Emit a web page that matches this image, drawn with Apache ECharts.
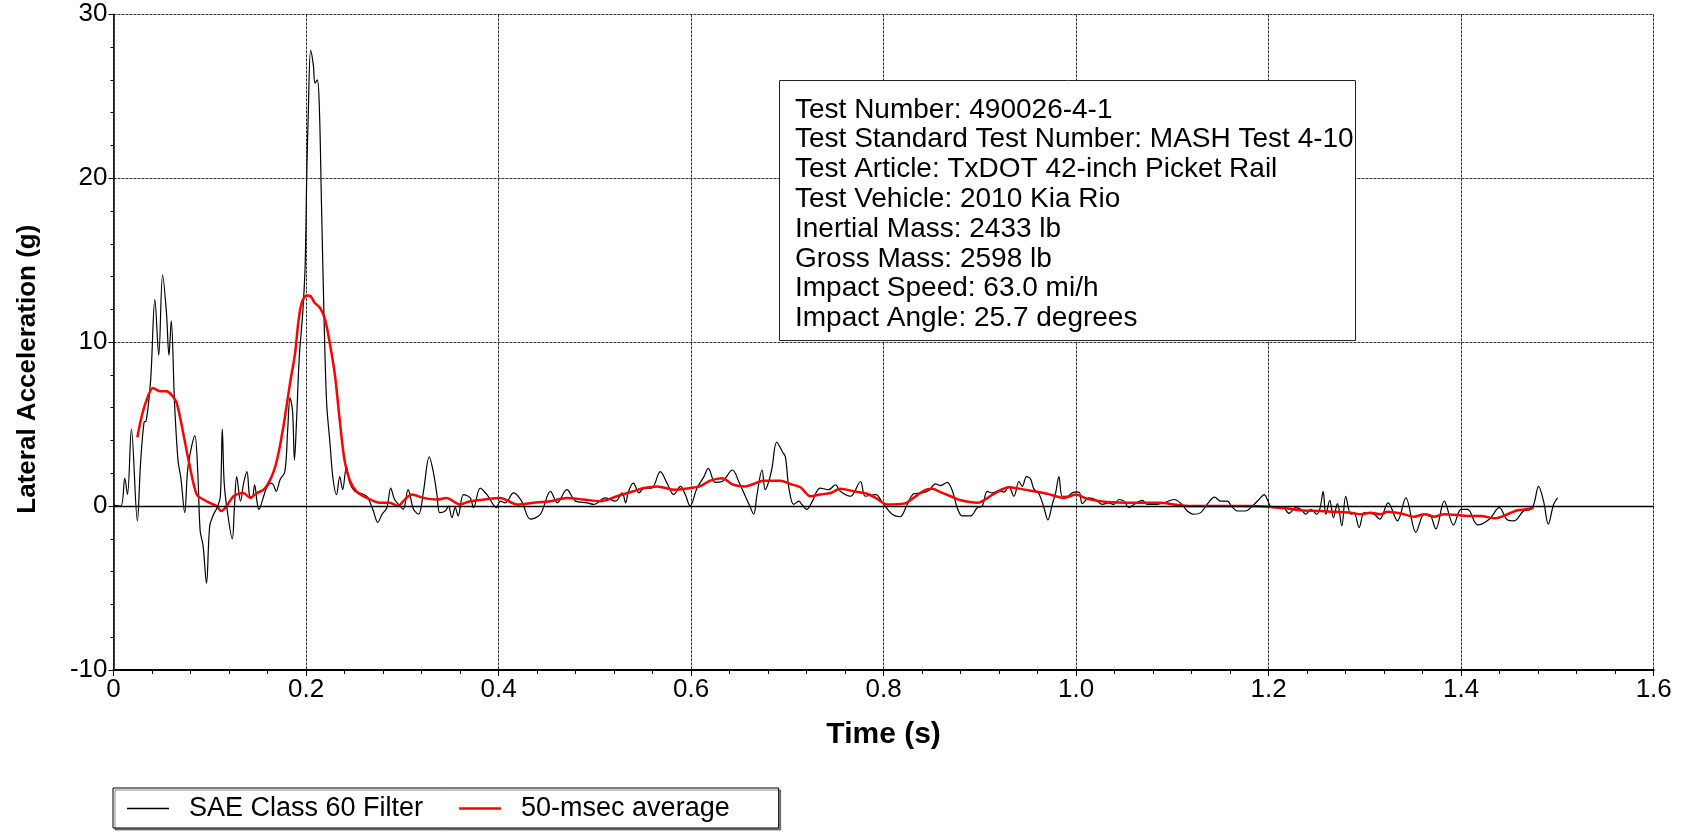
<!DOCTYPE html>
<html>
<head>
<meta charset="utf-8">
<script src="https://cdn.jsdelivr.net/npm/echarts@6/dist/echarts.min.js"></script>
<style>
  html, body { margin: 0; padding: 0; background: #fff; }
  #main { width: 1686px; height: 835px; }
</style>
</head>
<body>
<div id="main"></div>
<script>
// SAE Class 60 filtered lateral acceleration (time s, accel g)
var saeTime = [0, 0.0076, 0.0117, 0.0145, 0.0186, 0.0248, 0.028, 0.0317, 0.034, 0.0386,
  0.043, 0.047, 0.051, 0.055, 0.0576, 0.060, 0.0634, 0.067, 0.070, 0.074,
  0.077, 0.081, 0.0845, 0.0876, 0.090, 0.093, 0.0966, 0.100, 0.104, 0.1076,
  0.111, 0.113, 0.115, 0.118, 0.1234, 0.1255, 0.128, 0.132, 0.1352, 0.1386,
  0.1414, 0.144, 0.1466, 0.149, 0.151, 0.156, 0.159, 0.1634, 0.166, 0.169,
  0.173, 0.178, 0.181, 0.1834, 0.186, 0.188, 0.190, 0.193, 0.1966, 0.199,
  0.2007, 0.2024, 0.2048, 0.2076, 0.2093, 0.2117, 0.2138, 0.216, 0.2186, 0.2214,
  0.2248, 0.228, 0.2317, 0.235, 0.238, 0.242, 0.2455, 0.2507, 0.256, 0.263,
  0.266, 0.270, 0.2745, 0.279, 0.284, 0.288, 0.292, 0.2978, 0.301, 0.306,
  0.3117, 0.317, 0.322, 0.328, 0.3325, 0.336, 0.339, 0.3446, 0.348, 0.3515,
  0.355, 0.358, 0.3636, 0.3706, 0.374, 0.381, 0.388, 0.398, 0.4017, 0.407,
  0.4156, 0.424, 0.433, 0.4434, 0.454, 0.461, 0.471, 0.48, 0.492, 0.499,
  0.511, 0.5215, 0.5285, 0.532, 0.535, 0.540, 0.546, 0.551, 0.559, 0.568,
  0.575, 0.582, 0.589, 0.594, 0.599, 0.6062, 0.613, 0.618, 0.625, 0.6322,
  0.643, 0.6495, 0.6564, 0.661, 0.665, 0.6685, 0.6737, 0.677, 0.6807, 0.684,
  0.689, 0.695, 0.698, 0.7016, 0.7067, 0.712, 0.715, 0.72, 0.726, 0.734,
  0.743, 0.75, 0.755, 0.7655, 0.776, 0.781, 0.7917, 0.800, 0.8089, 0.817,
  0.8245, 0.8314, 0.840, 0.847, 0.854, 0.8592, 0.866, 0.8713, 0.8765, 0.8817,
  0.8904, 0.8973, 0.9025, 0.9077, 0.9129, 0.9198, 0.925, 0.930, 0.9354, 0.9406,
  0.944, 0.9485, 0.9527, 0.956, 0.9614, 0.9666, 0.9707, 0.9752, 0.9787, 0.9821,
  0.9856, 0.9908, 0.9977, 1.003, 1.0064, 1.0133, 1.020, 1.027, 1.034, 1.039,
  1.0445, 1.0497, 1.0549, 1.06, 1.0688, 1.074, 1.0826, 1.0913, 1.1017, 1.110,
  1.1155, 1.1224, 1.1294, 1.136, 1.1439, 1.150, 1.157, 1.162, 1.1675, 1.176,
  1.183, 1.190, 1.1954, 1.199, 1.2023, 1.2092, 1.2144, 1.2214, 1.228, 1.2334,
  1.2386, 1.2437, 1.25, 1.2535, 1.2566, 1.2594, 1.2635, 1.2673, 1.2715, 1.276,
  1.2801, 1.2853, 1.2888, 1.294, 1.2992, 1.3044, 1.3096, 1.3155, 1.3241, 1.3338,
  1.3425, 1.353, 1.3616, 1.3668, 1.3737, 1.3824, 1.392, 1.4, 1.4067, 1.4171,
  1.4292, 1.4396, 1.4482, 1.4551, 1.4648, 1.4725, 1.4759, 1.4804, 1.4856, 1.4905,
  1.496, 1.5002];
var saeAccel = [0.05, 0.0, 1.7, 0.7, 4.7, -0.9, 2.5, 5.1, 5.2, 7.7,
  12.6, 9.2, 14.1, 11.8, 9.2, 11.3, 6.3, 2.8, 1.7, -0.4,
  2.2, 3.6, 4.3, 2.0, -1.5, -2.4, -4.7, -1.2, -0.5, -0.1,
  0.6, 4.7, 1.4, -0.2, -2.0, -0.2, 1.8, 0.3, 1.4, 2.1,
  0.6, 0.5, 1.3, 0.3, -0.2, 0.6, 1.1, 1.4, 1.3, 0.9,
  1.6, 2.1, 4.7, 6.6, 5.8, 2.8, 5.0, 9.1, 11.8, 14.5,
  20.0, 24.1, 27.8, 26.9, 25.8, 26.0, 24.4, 18.6, 11.8, 6.3,
  3.9, 1.7, 0.7, 1.8, 1.0, 2.4, 1.4, 0.9, 0.8, 0.6,
  0.3, -0.3, -1.0, -0.5, -0.1, 1.1, 0.4, 0.0, -0.2, 1.0,
  -0.2, -0.5, 0.9, 3.0, 2.0, 0.7, -0.4, -0.3, 0.0, -0.7,
  -0.1, -0.6, 0.7, 0.5, -0.1, 1.1, 0.7, -0.1, 0.3, 0.2,
  0.8, 0.3, -0.8, -0.5, 0.9, 0.2, 1.0, 0.3, 0.2, 0.1,
  0.5, 0.3, 0.8, 0.2, 0.9, 1.4, 0.8, 1.1, 1.1, 2.1,
  1.4, 0.7, 1.2, 0.7, 0.0, 1.1, 1.75, 2.3, 1.45, 1.5,
  2.2, 1.5, 0.6, 0.0, -0.5, 0.7, 2.2, 1.0, 1.5, 2.3,
  3.9, 3.3, 3.0, 1.1, 0.1, 0.3, 0.1, -0.2, 0.3, 1.1,
  1.0, 1.3, 0.9, 0.6, 1.5, 0.6, 0.7, 0.1, -0.5, -0.65,
  0.1, 0.75, 0.8, 0.95, 1.35, 1.25, 1.45, 0.95, -0.1, -0.6,
  -0.6, -0.1, 0.0, 0.9, 0.8, 0.95, 0.85, 1.2, 0.6, 1.5,
  1.2, 1.8, 1.65, 1.05, 0.75, -0.1, -0.85, 0.1, 0.8, 1.8,
  0.6, 0.6, 0.85, 0.85, 0.15, 0.5, 0.4, 0.1, 0.2, 0.1,
  0.4, 0.3, -0.1, 0.1, 0.35, 0.1, 0.1, 0.2, 0.4, 0.1,
  -0.3, -0.5, -0.4, 0.1, 0.55, 0.3, 0.3, -0.05, -0.3, -0.3,
  0.0, 0.4, 0.7, 0.35, -0.05, -0.1, -0.05, -0.45, -0.1, -0.2,
  -0.5, -0.2, -0.5, -0.1, 0.9, -0.5, 0.35, -0.7, 0.15, -1.2,
  0.6, -0.5, -0.45, -1.3, -0.4, -0.45, -0.5, -0.8, 0.2, -0.9,
  0.5, -1.6, -0.5, -0.5, -1.4, 0.3, -1.15, -0.2, -0.2, -1.15,
  -0.8, -0.1, -0.85, -0.9, -0.3, -0.2, 0.2, 1.2, 0.3, -1.1,
  0.1, 0.5];

// 50-msec moving average
var avgTime = [0.0248, 0.029, 0.034, 0.041, 0.0483, 0.055, 0.060, 0.0656, 0.0726, 0.079,
  0.0865, 0.0934, 0.100, 0.107, 0.112, 0.1176, 0.1246, 0.135, 0.142, 0.1488,
  0.156, 0.1627, 0.168, 0.173, 0.178, 0.1834, 0.1886, 0.192, 0.1955, 0.2007,
  0.2048, 0.209, 0.2145, 0.2197, 0.2248, 0.230, 0.235, 0.240, 0.2455, 0.2524,
  0.263, 0.277, 0.287, 0.296, 0.301, 0.31, 0.322, 0.336, 0.346, 0.36,
  0.3706, 0.385, 0.4017, 0.419, 0.4364, 0.454, 0.471, 0.488, 0.506, 0.523,
  0.540, 0.551, 0.565, 0.582, 0.599, 0.609, 0.620, 0.632, 0.644, 0.656,
  0.665, 0.675, 0.6928, 0.703, 0.7136, 0.724, 0.734, 0.745, 0.755, 0.769,
  0.7828, 0.793, 0.8036, 0.821, 0.831, 0.842, 0.8505, 0.859, 0.8695, 0.88,
  0.8973, 0.9146, 0.930, 0.942, 0.956, 0.970, 0.9873, 0.9994, 1.0116, 1.032,
  1.06, 1.0878, 1.1017, 1.119, 1.147, 1.1813, 1.2023, 1.2196, 1.2334, 1.2542,
  1.268, 1.2853, 1.2957, 1.306, 1.3165, 1.3234, 1.3373, 1.3512, 1.3616, 1.372,
  1.3824, 1.3962, 1.4067, 1.4205, 1.4344, 1.4482, 1.4586, 1.4673, 1.4752];
var avgAccel = [4.2, 5.4, 6.4, 7.2, 7.0, 7.0, 6.8, 6.3, 4.4, 2.5,
  0.7, 0.4, 0.2, 0.0, -0.3, 0.0, 0.6, 0.8, 0.5, 0.8,
  1.0, 1.6, 2.4, 3.7, 5.4, 7.5, 9.3, 11.2, 12.4, 12.85,
  12.8, 12.4, 12.1, 11.4, 9.9, 8.0, 5.25, 2.8, 1.56, 0.9,
  0.5, 0.2, 0.2, 0.0, 0.3, 0.7, 0.5, 0.4, 0.5, 0.1,
  0.3, 0.4, 0.5, 0.1, 0.2, 0.3, 0.5, 0.4, 0.3, 0.6,
  0.9, 1.1, 1.2, 1.0, 1.1, 1.2, 1.55, 1.7, 1.3, 1.2,
  1.35, 1.55, 1.55, 1.35, 1.15, 0.6, 0.7, 0.8, 1.05, 0.9,
  0.75, 0.45, 0.1, 0.15, 0.5, 0.95, 1.05, 0.85, 0.6, 0.35,
  0.2, 0.75, 1.15, 1.05, 0.9, 0.75, 0.5, 0.7, 0.45, 0.25,
  0.2, 0.2, 0.1, 0.0, 0.0, 0.0, -0.05, -0.15, -0.25, -0.3,
  -0.35, -0.4, -0.5, -0.4, -0.5, -0.35, -0.45, -0.65, -0.5, -0.65,
  -0.5, -0.55, -0.6, -0.6, -0.75, -0.5, -0.25, -0.2, -0.1];

var xTickLabels = ['0', '0.2', '0.4', '0.6', '0.8', '1.0', '1.2', '1.4', '1.6'];
var legendNames = ['SAE Class 60 Filter', '50-msec average'];
var infoLines = [
  'Test Number: 490026-4-1',
  'Test Standard Test Number: MASH Test 4-10',
  'Test Article: TxDOT 42-inch Picket Rail',
  'Test Vehicle: 2010 Kia Rio',
  'Inertial Mass: 2433 lb',
  'Gross Mass: 2598 lb',
  'Impact Speed: 63.0 mi/h',
  'Impact Angle: 25.7 degrees'
];

function zip(xs, ys) {
  return xs.map(function (x, i) { return [x, ys[i]]; });
}

var font = '"Liberation Sans", Arial, sans-serif';
var chart = echarts.init(document.getElementById('main'));

var option = {
  backgroundColor: '#fff',
  animation: false,
  textStyle: { fontFamily: font },
  title: {
    text: infoLines.join('\n'),
    left: 779,
    top: 80,
    padding: [15, 2, 7, 16],
    borderColor: '#222',
    borderWidth: 1,
    backgroundColor: '#fff',
    textStyle: {
      fontFamily: font,
      fontSize: 28,
      fontWeight: 'normal',
      color: '#000',
      lineHeight: 29.8
    }
  },
  legend: {
    left: 113,
    top: 788,
    orient: 'horizontal',
    padding: [7, 49, 6, 14],
    borderColor: '#000',
    borderWidth: 1,
    backgroundColor: '#fff',
    shadowColor: 'rgba(0,0,0,0.45)',
    shadowOffsetX: 2,
    shadowOffsetY: 2,
    itemWidth: 42,
    itemHeight: 14,
    itemGap: 36,
    data: [
      { name: legendNames[0], icon: 'path://M0,0H42V1.3H0Z' },
      { name: legendNames[1], icon: 'path://M0,0H42V2.6H0Z' }
    ],
    textStyle: { fontFamily: font, fontSize: 27, color: '#000', padding: [0, 0, 0, 15] }
  },
  grid: { left: 113.5, right: 32.3, top: 14.3, bottom: 165 },
  xAxis: {
    type: 'value',
    min: 0,
    max: 1.6,
    interval: 0.2,
    name: 'Time (s)',
    nameLocation: 'middle',
    nameGap: 50,
    nameTextStyle: { fontFamily: font, fontSize: 30, fontWeight: 'bold', color: '#000' },
    axisLine: { show: true, onZero: false, lineStyle: { color: '#000', width: 2 } },
    axisTick: { show: true, length: 6, lineStyle: { color: '#000' } },
    minorTick: { show: true, splitNumber: 5, length: 4, lineStyle: { color: '#000' } },
    axisLabel: {
      margin: 7,
      fontFamily: font,
      fontSize: 26,
      color: '#000',
      formatter: function (v) { return xTickLabels[Math.round(v / 0.2)]; }
    },
    splitLine: { show: true, lineStyle: { color: '#333', type: [3, 1], width: 1 } }
  },
  yAxis: {
    type: 'value',
    min: -10,
    max: 30,
    interval: 10,
    name: 'Lateral Acceleration (g)',
    nameLocation: 'middle',
    nameGap: 73,
    nameTextStyle: { fontFamily: font, fontSize: 26, fontWeight: 'bold', color: '#000', padding: [0, 54, 0, 0] },
    axisLine: { show: true, lineStyle: { color: '#000', width: 1.5 } },
    axisTick: { show: true, length: 5, lineStyle: { color: '#000' } },
    minorTick: { show: true, splitNumber: 5, length: 3, lineStyle: { color: '#000' } },
    axisLabel: { margin: 6, fontFamily: font, fontSize: 26, color: '#000' },
    splitLine: { show: true, lineStyle: { color: '#333', type: [3, 1], width: 1 } }
  },
  series: [
    {
      name: legendNames[0],
      type: 'line',
      data: zip(saeTime, saeAccel),
      symbol: 'none',
      smooth: 0.35,
      lineStyle: { color: '#000', width: 1.2 },
      itemStyle: { color: '#000' },
      markLine: {
        silent: true,
        symbol: ['none', 'none'],
        label: { show: false },
        lineStyle: { color: '#000', type: 'solid', width: 1.3 },
        data: [{ yAxis: 0 }]
      }
    },
    {
      name: legendNames[1],
      type: 'line',
      data: zip(avgTime, avgAccel),
      symbol: 'none',
      smooth: 0.3,
      lineStyle: { color: '#ff0000', width: 2.5 },
      itemStyle: { color: '#ff0000' }
    }
  ]
};

chart.setOption(option);
</script>
</body>
</html>
